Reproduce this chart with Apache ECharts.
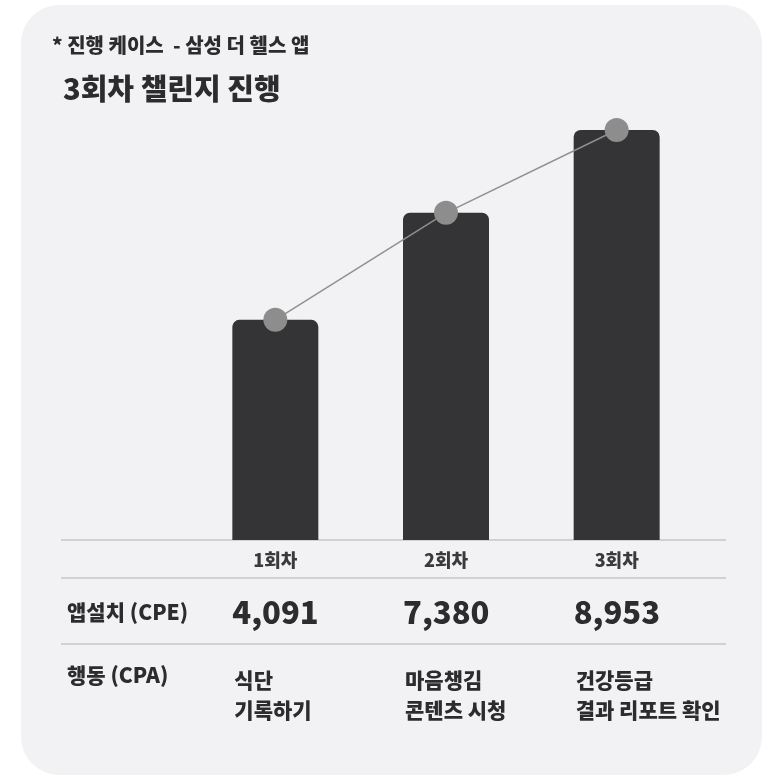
<!DOCTYPE html>
<html>
<head>
<meta charset="utf-8">
<script src="https://cdn.jsdelivr.net/npm/echarts@6/dist/echarts.min.js"></script>
<style>
  html, body { margin: 0; padding: 0; background: #ffffff; }
  #chart { width: 770px; height: 776px; }
</style>
</head>
<body>
<div id="chart"></div>
<script>
// 회차별 데이터
const rounds = ['1회차', '2회차', '3회차'];
// 막대 높이 (그림에서 읽은 상대값, 3회차 = 100)
const barLevel = [53.7, 79.8, 100];
const installCount = [4091, 7380, 8953];
const actionText = ['식단\n기록하기', '마음챙김\n콘텐츠 시청', '건강등급\n결과 리포트 확인'];

const FONT = '"Noto Sans CJK KR", "Noto Sans", sans-serif';
const DARK = '#2c2c2e';

const chart = echarts.init(document.getElementById('chart'), null, { renderer: 'canvas' });

chart.setOption({
  animation: false,
  grid: { left: 190, right: 68, top: 130, bottom: 236 },
  xAxis: {
    type: 'category',
    data: rounds,
    axisLine: { show: false },
    axisTick: { show: false },
    axisLabel: {
      margin: 11,
      color: '#3a3a3c',
      fontSize: 18,
      fontWeight: 800,
      fontFamily: FONT,
    },
  },
  yAxis: { type: 'value', min: 0, max: 100, show: false },
  series: [
    {
      type: 'bar',
      data: barLevel,
      barWidth: 86,
      itemStyle: { color: '#343437', borderRadius: [7, 7, 0, 0] },
      z: 2,
    },
    {
      type: 'line',
      data: barLevel,
      symbol: 'circle',
      symbolSize: 24,
      clip: false,
      lineStyle: { color: '#909090', width: 1.5 },
      itemStyle: { color: '#8d8d8d' },
      z: 3,
    },
  ],
});

// 표 부분 (그래픽 요소)
const hLine = (y) => ({
  type: 'line',
  shape: { x1: 61, y1: y, x2: 726, y2: y },
  style: { stroke: '#c6c6ca', lineWidth: 1.5 },
  z: 1,
});

const cellTexts = [];
rounds.forEach((r, i) => {
  const cx = chart.convertToPixel({ xAxisIndex: 0 }, r);
  const left = cx - 43;
  cellTexts.push({
    type: 'text',
    x: left, y: 612,
    style: {
      text: installCount[i].toLocaleString('en-US'),
      fill: DARK, font: `900 31px ${FONT}`,
      verticalAlign: 'middle',
    },
  });
  cellTexts.push({
    type: 'text',
    x: left + 2, y: 665,
    style: {
      text: actionText[i],
      fill: DARK, font: `800 21px ${FONT}`,
      lineHeight: 30,
      verticalAlign: 'top',
    },
  });
});

chart.setOption({
  graphic: [
    {
      type: 'rect',
      shape: { x: 21, y: 5, width: 741, height: 770, r: 38 },
      style: { fill: '#f2f2f4' },
      z: -10,
    },
    {
      type: 'text', x: 52, y: 45,
      style: {
        text: '* 진행 케이스  - 삼성 더 헬스 앱',
        fill: DARK, font: `800 20px ${FONT}`, verticalAlign: 'middle',
      },
    },
    {
      type: 'text', x: 63, y: 89,
      style: {
        text: '3회차 챌린지 진행',
        fill: DARK, font: `900 29px ${FONT}`, verticalAlign: 'middle',
      },
    },
    hLine(540), hLine(578), hLine(644),
    {
      type: 'text', x: 67, y: 612,
      style: {
        text: '앱설치 (CPE)',
        fill: DARK, font: `800 21px ${FONT}`, verticalAlign: 'middle',
      },
    },
    {
      type: 'text', x: 67, y: 675,
      style: {
        text: '행동 (CPA)',
        fill: DARK, font: `800 21px ${FONT}`, verticalAlign: 'middle',
      },
    },
    ...cellTexts,
  ],
});
</script>
</body>
</html>
